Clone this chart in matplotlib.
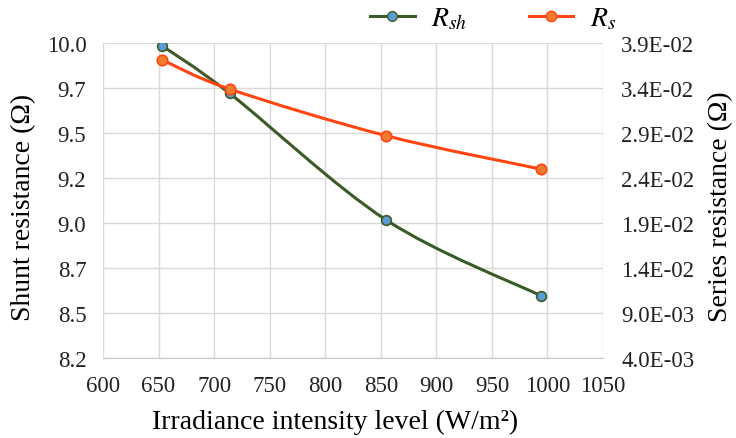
import matplotlib
matplotlib.use("Agg")
import matplotlib.pyplot as plt
from matplotlib.path import Path
from matplotlib.patches import PathPatch
from matplotlib.lines import Line2D
from matplotlib.ticker import FixedLocator, FuncFormatter

plt.rcParams["font.family"] = ["Liberation Serif", "DejaVu Serif"]
plt.rcParams["mathtext.fontset"] = "stix"

irradiance = [653, 714, 855, 994]
r_shunt = [9.937, 9.672, 8.968, 8.548]
r_series = [0.03718, 0.03392, 0.02873, 0.02503]

x_ticks = list(range(600, 1051, 50))
left_ticks = [8.2, 8.45, 8.7, 8.95, 9.2, 9.45, 9.7, 9.95]
right_ticks = [0.004, 0.009, 0.014, 0.019, 0.024, 0.029, 0.034, 0.039]

GREEN = "#3b5a26"
BLUE = "#5b9bd5"
RED = "#ff4512"
ORANGE = "#ed7d31"
GRID = "#d9d9d9"


def smooth_path(xs, ys):
    # Excel-style smoothed line: cubic bezier through every point
    verts = [(xs[0], ys[0])]
    codes = [Path.MOVETO]
    n = len(xs)
    for i in range(n - 1):
        x0, y0 = (xs[i - 1], ys[i - 1]) if i > 0 else (xs[i], ys[i])
        x3, y3 = (xs[i + 2], ys[i + 2]) if i + 2 < n else (xs[i + 1], ys[i + 1])
        c1 = (xs[i] + (xs[i + 1] - x0) / 6, ys[i] + (ys[i + 1] - y0) / 6)
        c2 = (xs[i + 1] - (x3 - xs[i]) / 6, ys[i + 1] - (y3 - ys[i]) / 6)
        verts += [c1, c2, (xs[i + 1], ys[i + 1])]
        codes += [Path.CURVE4] * 3
    return Path(verts, codes)


fig = plt.figure(figsize=(7.36, 4.39), dpi=100)
ax = fig.add_axes([0.1399, 0.1815, 0.6794, 0.7175])
ax2 = ax.twinx()

ax.set_xlim(600, 1050)
ax.set_ylim(8.2, 9.95)
ax2.set_ylim(0.004, 0.039)

ax.xaxis.set_major_locator(FixedLocator(x_ticks))
ax.yaxis.set_major_locator(FixedLocator(left_ticks))
ax2.yaxis.set_major_locator(FixedLocator(right_ticks))
ax.yaxis.set_major_formatter(FuncFormatter(lambda v, p: f"{v + 1e-9:.1f}"))
ax2.yaxis.set_major_formatter(FuncFormatter(lambda v, p: f"{v:.1E}"))

ax.grid(True, color=GRID, linewidth=1.0)
ax.set_axisbelow(True)
for a in (ax, ax2):
    for s in a.spines.values():
        s.set_visible(False)
    a.tick_params(length=0, labelsize=16.5, colors="#222222")
ax.spines["bottom"].set_visible(True)
ax.spines["bottom"].set_color("#c8c8c8")
ax.tick_params(axis="y", pad=12)
ax.tick_params(axis="x", pad=12)
ax2.tick_params(axis="y", pad=13)

ax.add_patch(PathPatch(smooth_path(irradiance, r_shunt), facecolor="none", edgecolor=GREEN, lw=2.2, zorder=3))
ax.plot(irradiance, r_shunt, ls="none", marker="o", ms=7, mfc=BLUE, mec=GREEN, mew=1.2, zorder=4)
ax2.add_patch(PathPatch(smooth_path(irradiance, r_series), facecolor="none", edgecolor=RED, lw=2.2, zorder=3))
ax2.plot(irradiance, r_series, ls="none", marker="o", ms=7.5, mfc=ORANGE, mec=RED, mew=1.2, zorder=4)

ax.set_xlabel("Irradiance intensity level (W/m²)", fontsize=20, va="center")
ax.set_ylabel("Shunt resistance (Ω)", fontsize=20, va="center")
ax2.set_ylabel("Series resistance (Ω)", fontsize=20, va="center")
ax.xaxis.set_label_coords(0.464, -0.199)
ax.yaxis.set_label_coords(-0.158, 0.483)
ax2.yaxis.set_label_coords(1.236, 0.483)

handles = [
    Line2D([], [], color=GREEN, lw=2.2, marker="o", ms=7, mfc=BLUE, mec=GREEN),
    Line2D([], [], color=RED, lw=2.2, marker="o", ms=7.5, mfc=ORANGE, mec=RED),
]
fig.legend(handles, [r"$R_{sh}$", r"$R_{s}$"], loc="center", bbox_to_anchor=(0.67, 0.955),
           ncol=2, frameon=False, fontsize=20, handlelength=1.6, columnspacing=2.2, handletextpad=0.6)

fig.savefig("out.png", dpi=100, facecolor="white")
